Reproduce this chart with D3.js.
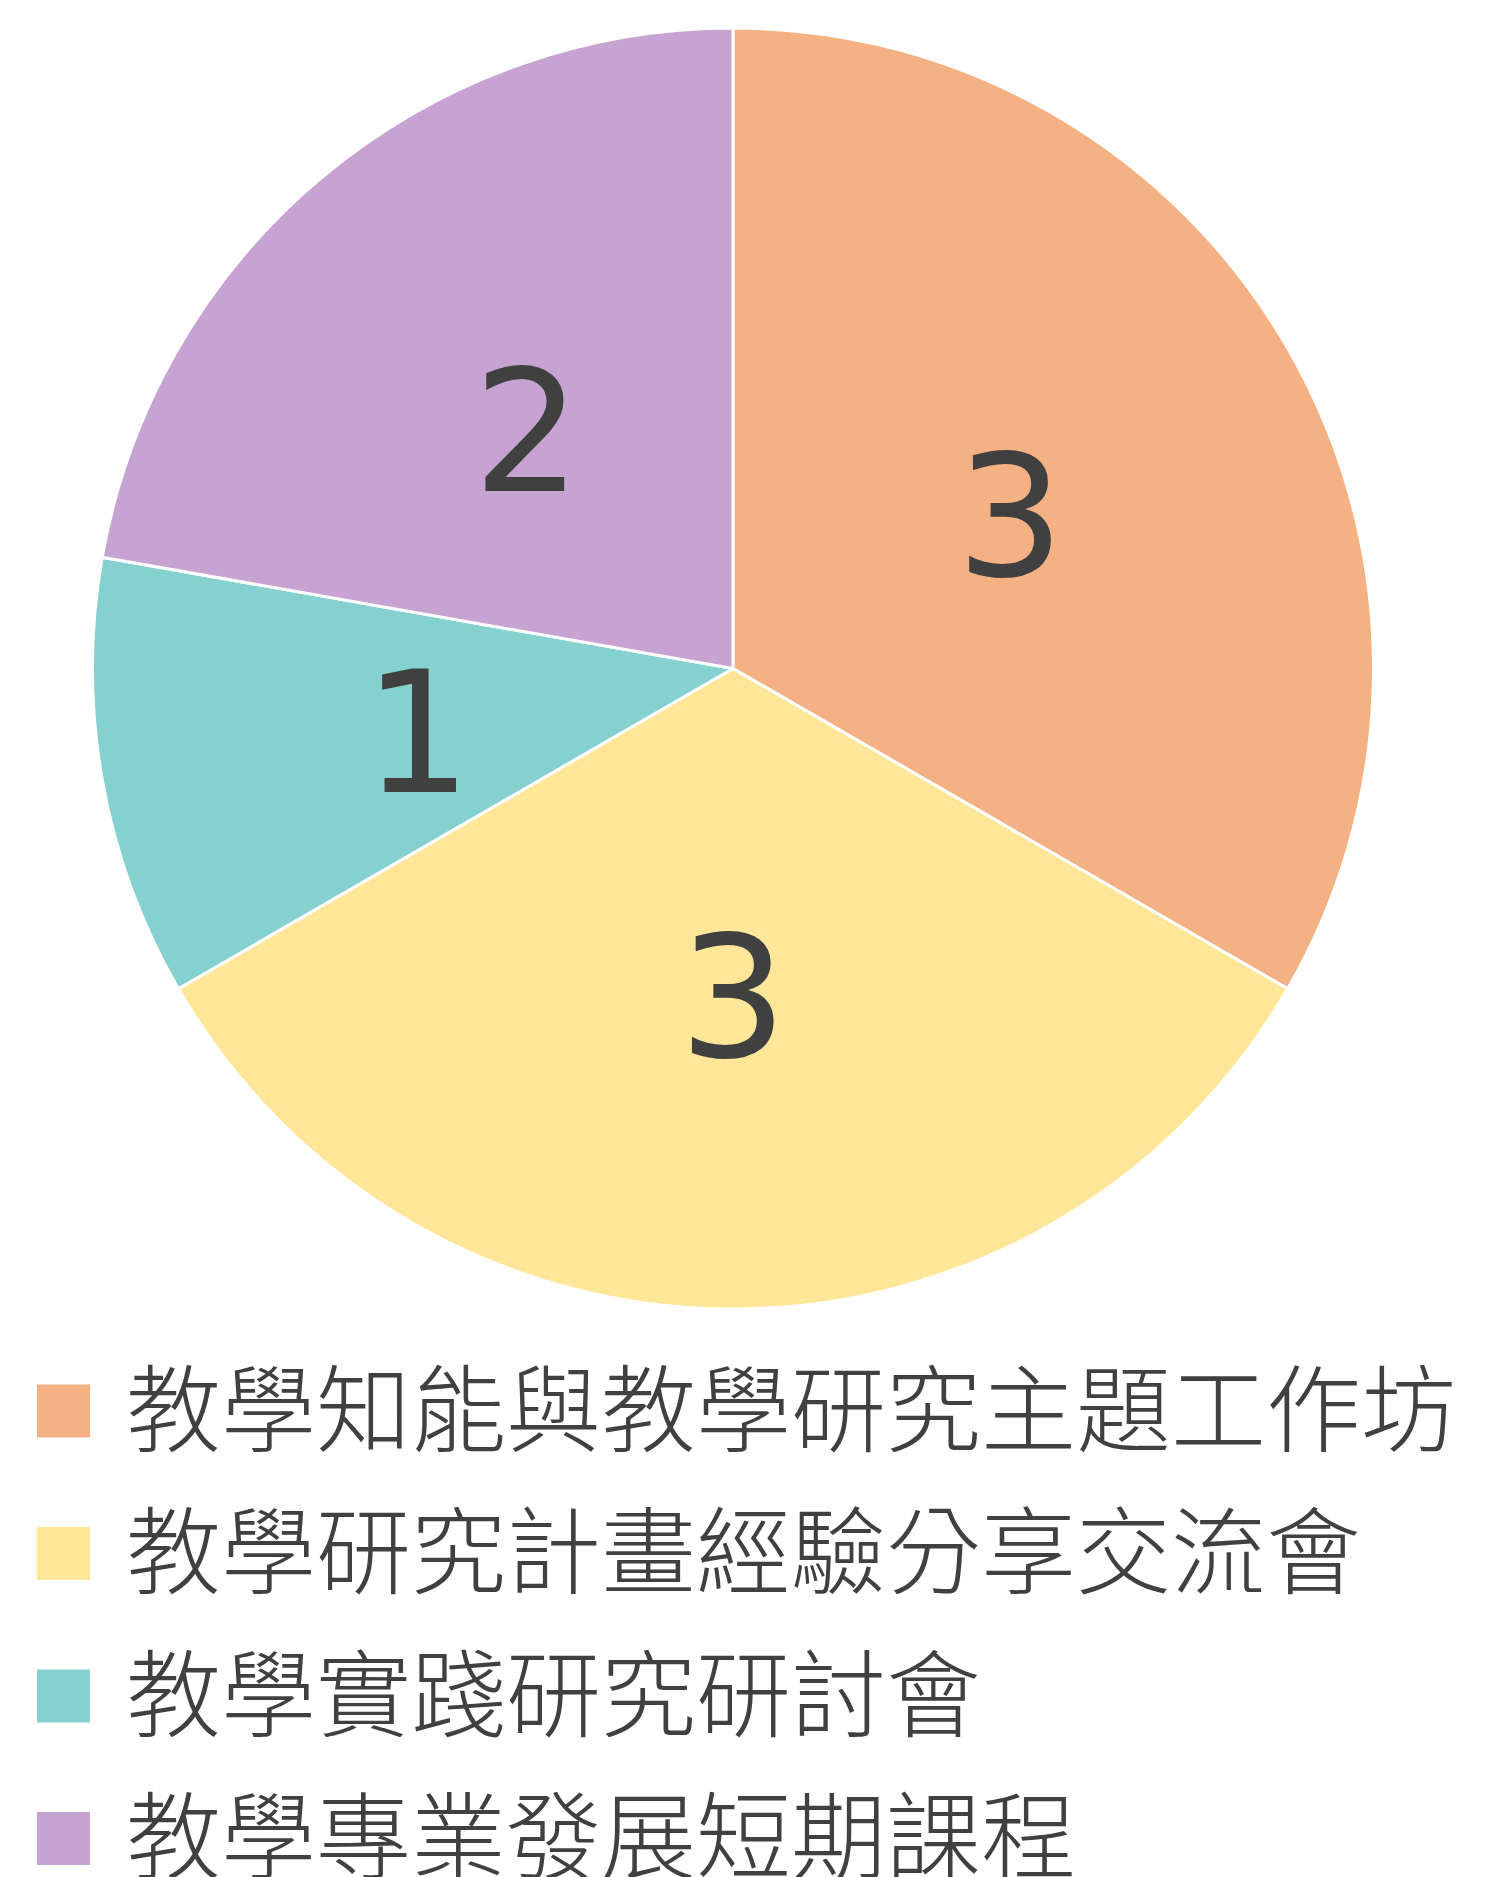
<!DOCTYPE html>
<html>
<head>
<meta charset="utf-8">
<script src="https://cdn.jsdelivr.net/npm/d3@7"></script>
<style>
  html, body { margin: 0; padding: 0; background: #fff; }
  svg { display: block; }
</style>
</head>
<body>
<svg id="pieChart" width="1485" height="1877"></svg>
<script>
// data
const categories = ["教學知能與教學研究主題工作坊", "教學研究計畫經驗分享交流會", "教學實踐研究研討會", "教學專業發展短期課程"];
const counts = [3, 3, 1, 2];
const colors = ["#F4B183", "#FFE699", "#84D1D0", "#C7A3D1"];

const data = categories.map((c, i) => ({ category: c, value: counts[i] }));

const svg = d3.select("#pieChart");
const cx = 733, cy = 668.5, radius = 640.5;

const color = d3.scaleOrdinal()
  .domain(categories)
  .range(colors);

const pie = d3.pie()
  .value(d => d.value)
  .sort(null);

const arc = d3.arc().innerRadius(0).outerRadius(radius);

const g = svg.append("g").attr("transform", `translate(${cx},${cy})`);

const arcs = pie(data);

g.selectAll("path")
  .data(arcs)
  .join("path")
    .attr("d", arc)
    .attr("fill", d => color(d.data.category))
    .attr("stroke", "#fff")
    .attr("stroke-width", 3)
    .attr("stroke-linejoin", "round");

// value labels, at the centroid of each slice
g.selectAll("text.val")
  .data(arcs)
  .join("text")
    .attr("class", "val")
    .attr("transform", d => {
      const [x, y] = arc.centroid(d);
      return `translate(${x},${y + 68})`;
    })
    .attr("text-anchor", "middle")
    .style("font-family", "'DejaVu Sans', sans-serif")
    .style("font-size", "170px")
    .style("fill", "#404040")
    .text(d => d.data.value);

// legend
const ly = d3.scalePoint()
  .domain(categories)
  .range([1411, 1838.5]);

const legend = svg.append("g");
const rows = legend.selectAll("g")
  .data(categories)
  .join("g")
    .attr("transform", d => `translate(0,${ly(d)})`);

rows.append("rect")
  .attr("x", 37)
  .attr("y", -26.5)
  .attr("width", 53)
  .attr("height", 53)
  .attr("fill", d => color(d));

rows.append("text")
  .attr("x", 126)
  .attr("y", -8)
  .attr("dominant-baseline", "central")
  .style("font-family", "'Noto Sans CJK TC', 'Noto Sans CJK SC', sans-serif")
  .style("font-weight", 300)
  .style("font-size", "95px")
  .style("fill", "#404040")
  .text(d => d);
</script>
</body>
</html>
